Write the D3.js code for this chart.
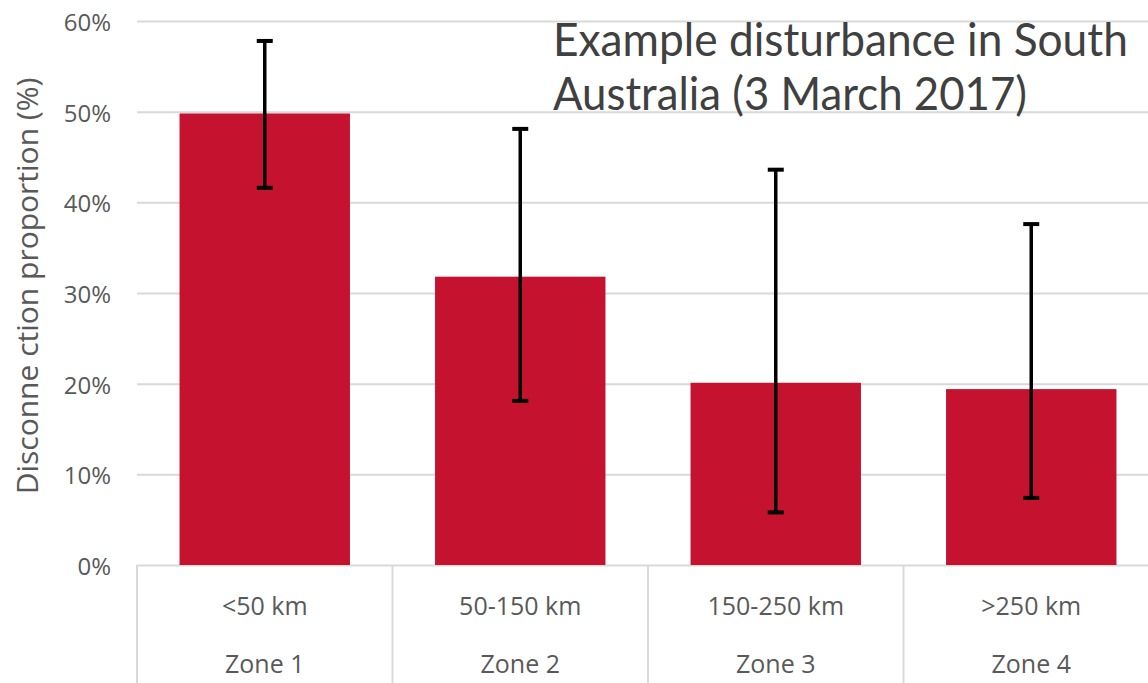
<!DOCTYPE html>
<html><head><meta charset="utf-8">
<script src="https://cdn.jsdelivr.net/npm/d3@7"></script>
<style>body{margin:0;background:#fff}svg{display:block}</style>
</head><body>
<svg id="c" width="1148" height="683"></svg>
<script>
const zones = ["Zone 1","Zone 2","Zone 3","Zone 4"];
const distances = ["<50 km","50-150 km","150-250 km",">250 km"];
const values = [49.8, 31.8, 20.1, 19.4];
const errLow = [41.6, 18.1, 5.8, 7.4];
const errHigh = [57.8, 48.1, 43.6, 37.6];
const yTicks = [0,10,20,30,40,50,60];
const titleLines = ["Example disturbance in South","Australia (3 March 2017)"];

(function(){
const svg = d3.select("#c");
const mL = 137, mR = 1159, mT = 21, mB = 565;
const x = d3.scaleBand().domain(zones).range([mL,mR]).paddingInner(0.333).paddingOuter(0.1665);
const xb = d3.scaleBand().domain(zones).range([mL,mR]).padding(0);
const y = d3.scaleLinear().domain([0,60]).range([mB,mT]);
const font = "'Open Sans', 'Noto Sans', sans-serif";
const grey = "#595959";

const yAxis = d3.axisLeft(y).tickValues(yTicks).tickSize(-(mR-mL)).tickFormat(d=>d+"%");
const ga = svg.append("g").attr("transform",`translate(${mL},0)`).call(yAxis);
ga.select(".domain").remove();
ga.selectAll(".tick line").attr("stroke","#d9d9d9").attr("stroke-width",2);
ga.selectAll(".tick text").attr("x",-26).attr("dy","0.4em").attr("fill",grey).style("font-family",font).style("font-size","24px");

svg.append("g").selectAll("line").data(zones).join("line")
  .attr("x1",d=>xb(d)).attr("x2",d=>xb(d)).attr("y1",mB).attr("y2",683)
  .attr("stroke","#d9d9d9").attr("stroke-width",2);

svg.append("g").selectAll("rect").data(zones).join("rect")
  .attr("x",d=>x(d)).attr("width",x.bandwidth())
  .attr("y",(d,i)=>y(values[i])).attr("height",(d,i)=>y(0)-y(values[i]))
  .attr("fill","#c4122f");

const eg = svg.append("g").attr("stroke","#000").attr("stroke-width",3.5);
zones.forEach((z,i)=>{
  const cx = x(z)+x.bandwidth()/2;
  eg.append("line").attr("x1",cx).attr("x2",cx).attr("y1",y(errLow[i])).attr("y2",y(errHigh[i]));
  eg.append("line").attr("x1",cx-8).attr("x2",cx+8).attr("y1",y(errLow[i])).attr("y2",y(errLow[i])).attr("stroke-width",4);
  eg.append("line").attr("x1",cx-8).attr("x2",cx+8).attr("y1",y(errHigh[i])).attr("y2",y(errHigh[i])).attr("stroke-width",4);
});

const lg = svg.append("g").attr("fill",grey).style("font-family",font).style("font-size","25px").attr("text-anchor","middle");
zones.forEach((z,i)=>{
  const cx = xb(z)+xb.bandwidth()/2;
  lg.append("text").attr("x",cx).attr("y",615).text(distances[i]);
  lg.append("text").attr("x",cx).attr("y",673).text(z);
});

svg.append("text").attr("transform","translate(38,286) rotate(-90)").attr("text-anchor","middle")
  .attr("fill",grey).style("font-family",font).style("font-size","30px").text("Disconne ction proportion (%)");

const tw = [575, 474], ty = [56, 110];
titleLines.forEach((t,i)=>{
  const el = svg.append("text").attr("fill","#404040").style("font-family","Lato, 'Open Sans', sans-serif").style("font-size","47px").text(t);
  const w = el.node().getComputedTextLength();
  const s = tw[i]/w;
  el.attr("transform",`translate(553,${ty[i]}) scale(${s},1)`);
});
})();
</script>
</body></html>
